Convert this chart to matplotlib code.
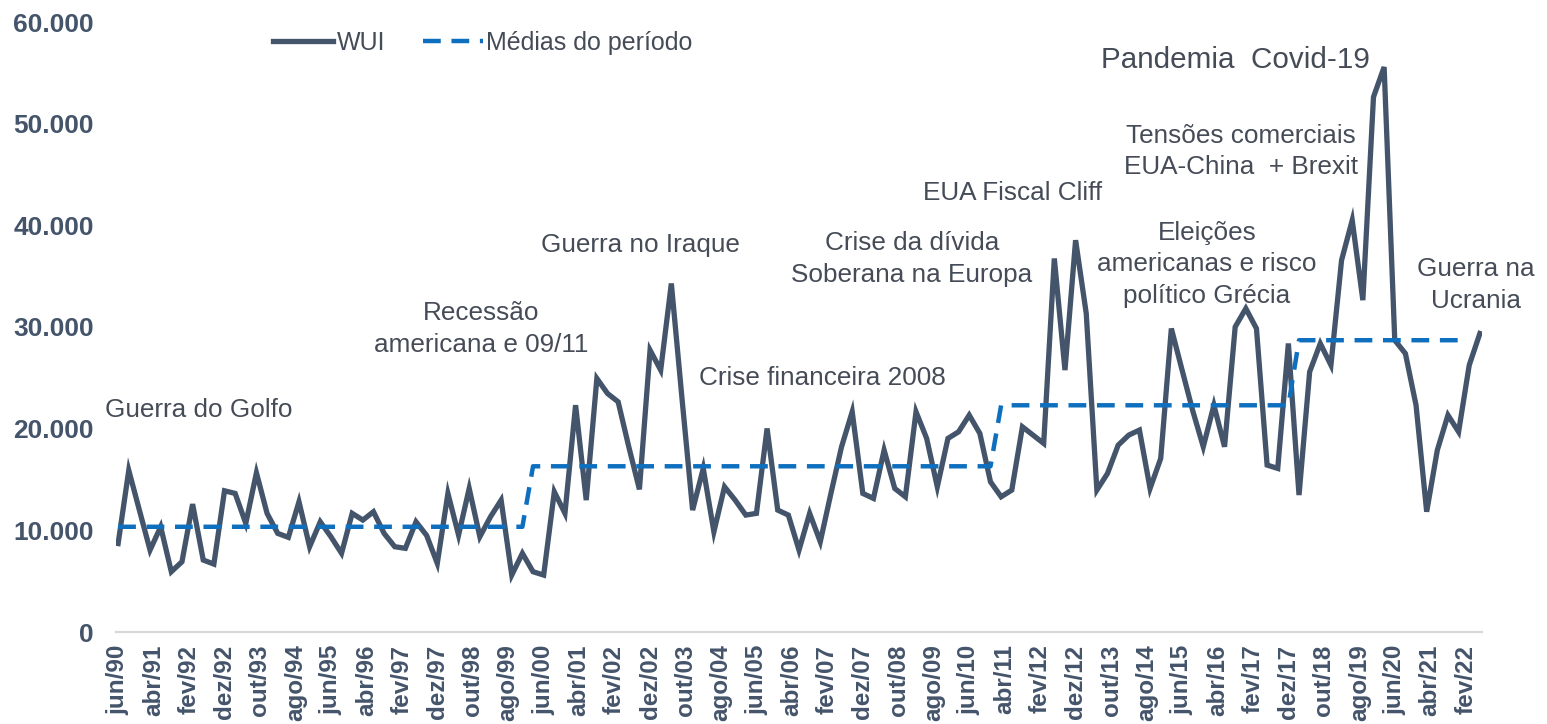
import matplotlib
matplotlib.use("Agg")
import matplotlib.pyplot as plt
import numpy as np

# quarterly WUI values, jun/90 .. jun/22
wui = [8700, 15900, 12000, 8060, 10350, 5930, 6910, 12580, 7080, 6680,
       13890, 13630, 10680, 15660, 11670, 9700, 9310, 12810, 8390, 10840,
       9370, 7740, 11670, 11010, 11830, 9700, 8390, 8230, 10840, 9500,
       6750, 13630, 9530, 14120, 9370, 11330, 12970, 5600, 7740, 5930,
       5600, 13790, 11670, 22310, 12970, 24940, 23460, 22640, 18220, 14030,
       27720, 25760, 34280, 23000, 11990, 16090, 9860, 14280, 12970, 11500,
       11670, 20020, 11990, 11500, 8060, 11670, 8880, 13630, 18220, 21660,
       13630, 13140, 17890, 14120, 13300, 21660, 19040, 14280, 19040, 19690,
       21330, 19530, 14770, 13300, 13960, 20180, 19370, 18550, 36740, 25760,
       38540, 31330, 13960, 15600, 18380, 19370, 19860, 14120, 17070, 29850,
       25800, 21800, 18220, 22310, 18220, 30010, 31820, 29850, 16420, 16090,
       28380, 13470, 25590, 28380, 26250, 36570, 40500, 32640, 52620, 55570,
       28700, 27390, 22310, 11830, 17890, 21330, 19690, 26250, 29360]

# period averages (first and last quarter index of each period)
period_mean = [10350, 16300, 22300, 28700]
period_first = [0, 39, 83, 111]
period_last = [38, 82, 110, 126]

tick_labels = ["jun/90", "abr/91", "fev/92", "dez/92", "out/93", "ago/94", "jun/95",
               "abr/96", "fev/97", "dez/97", "out/98", "ago/99", "jun/00", "abr/01",
               "fev/02", "dez/02", "out/03", "ago/04", "jun/05", "abr/06", "fev/07",
               "dez/07", "out/08", "ago/09", "jun/10", "abr/11", "fev/12", "dez/12",
               "out/13", "ago/14", "jun/15", "abr/16", "fev/17", "dez/17", "out/18",
               "ago/19", "jun/20", "abr/21", "fev/22"]

events = ["Guerra do Golfo", "Recessão\namericana e 09/11", "Guerra no Iraque",
          "Crise financeira 2008", "Crise da dívida\nSoberana na Europa",
          "EUA Fiscal Cliff", "Eleições\namericanas e risco\npolítico Grécia",
          "Tensões comerciais\nEUA-China  + Brexit", "Pandemia  Covid-19",
          "Guerra na\nUcrania"]
# label centres (months since jun/90, index value)
event_x = [22.6, 102.3, 147.2, 198.5, 223.8, 252.3, 307.0, 316.6, 315.2, 382.9]
event_y = [21820, 29790, 38040, 24970, 36670, 43150, 36170, 47280, 56230, 34110]
event_size = [18.8, 18.8, 18.8, 18.8, 18.8, 18.8, 18.8, 18.8, 21.3, 18.8]

plt.rcParams['font.family'] = ['Liberation Sans', 'DejaVu Sans']

W, H = 1547, 724
fig = plt.figure(figsize=(W / 100, H / 100), dpi=100)
ax = fig.add_axes([116 / W, 1 - 632 / H, (1482 - 116) / W, (632 - 22) / H])

months = np.arange(len(wui)) * 3
line_color = '#44546A'
mean_color = '#0E6FBF'
text_color = '#454C57'

mean_series = np.concatenate([np.full(l - f + 1, v, dtype=float)
                              for v, f, l in zip(period_mean, period_first, period_last)])
mean_months = months[:len(mean_series)]

ax.plot(months, wui, color=line_color, lw=3.8, solid_joinstyle='miter', label='WUI', zorder=3)
ax.plot(mean_months, mean_series, color=mean_color, lw=3.2, dashes=(4, 2.4),
        dash_capstyle='butt', label='Médias do período', zorder=4)

ax.set_xlim(-0.6, 384.6)
ax.set_ylim(0, 60000)
ax.set_yticks(np.arange(0, 60001, 10000))
ax.set_yticklabels([f"{v:,}".replace(",", ".") for v in range(0, 60001, 10000)],
                   fontsize=19, fontweight='bold', color=line_color)
ax.set_xticks(np.arange(len(tick_labels)) * 10)
ax.set_xticklabels(tick_labels, rotation=90, fontsize=17.5, fontweight='bold',
                   color=line_color, va='top', ha='center')
ax.tick_params(axis='y', length=0, pad=16)
ax.tick_params(axis='x', length=0, pad=9)

for s in ['top', 'right', 'left']:
    ax.spines[s].set_visible(False)
ax.spines['bottom'].set_color('#D9D9D9')
ax.spines['bottom'].set_linewidth(1.6)

for txt, x, y, fs in zip(events, event_x, event_y, event_size):
    ax.text(x, y, txt, ha='center', va='center', fontsize=fs, color=text_color,
            linespacing=1.4, zorder=5)

leg = ax.legend(loc='center left', bbox_to_anchor=(273 / W, 1 - 43 / H),
                bbox_transform=fig.transFigure, ncol=2, frameon=False,
                fontsize=18, handlelength=2.4, handletextpad=0.15,
                columnspacing=1.5, borderpad=0, borderaxespad=0)
for t in leg.get_texts():
    t.set_color(text_color)

fig.savefig('out.png', dpi=100, facecolor='white')
